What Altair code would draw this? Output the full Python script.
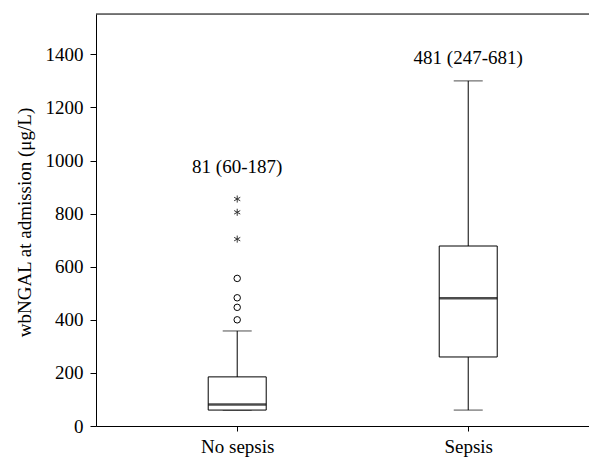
import altair as alt
import pandas as pd

groups = ["No sepsis", "Sepsis"]
lower_whisker = [60, 60]
q1 = [60, 260]
median = [81, 481]
q3 = [185, 678]
upper_whisker = [358, 1300]
summary_labels = ["81 (60-187)", "481 (247-681)"]
summary_label_y = [977, 1385]

circle_outliers = [400, 447, 483, 556]
star_outliers = [704, 805, 855]

y_ticks = [0, 200, 400, 600, 800, 1000, 1200, 1400]

FONT = "Liberation Serif"
FS = 19
W, H = 493, 412

box_df = pd.DataFrame({
    "group": groups, "low": lower_whisker, "q1": q1, "median": median,
    "q3": q3, "high": upper_whisker, "label": summary_labels, "label_y": summary_label_y,
})
circ_df = pd.DataFrame({"group": ["No sepsis"] * len(circle_outliers), "value": circle_outliers})
star_df = pd.DataFrame({"group": ["No sepsis"] * len(star_outliers), "value": star_outliers})

xscale = alt.Scale(type="point", domain=groups, padding=0.567, align=0.539)
yscale = alt.Scale(domain=[0, 1552], nice=False, zero=True)

xaxis = alt.Axis(title=None, labelFont=FONT, labelFontSize=FS, labelColor="black",
                 labelAngle=0, tickSize=5, tickColor="black", domainColor="black",
                 labelPadding=6, grid=False)
yaxis = alt.Axis(title="wbNGAL at admission (μg/L)", values=y_ticks, format="d",
                 labelFont=FONT, labelFontSize=FS, labelColor="black", tickSize=6,
                 tickColor="black", domainColor="black", labelPadding=7, grid=False,
                 titleFont=FONT, titleFontSize=FS, titleFontWeight="normal",
                 titleColor="black", titleAngle=270, titleX=-72, titleY=208,
                 titleAlign="center", titleBaseline="middle")

base = alt.Chart(box_df)
x = alt.X("group:N", scale=xscale, axis=xaxis)

whisker = base.mark_rule(color="black", strokeWidth=1).encode(
    x=x, y=alt.Y("low:Q", scale=yscale, axis=yaxis), y2="high:Q")
cap_low = base.mark_tick(orient="horizontal", size=29, thickness=1, color="black").encode(
    x=x, y=alt.Y("low:Q", scale=yscale))
cap_high = base.mark_tick(orient="horizontal", size=29, thickness=1, color="black").encode(
    x=x, y=alt.Y("high:Q", scale=yscale))
box = base.mark_bar(size=58, fill="white", stroke="black", strokeWidth=1).encode(
    x=x, y=alt.Y("q1:Q", scale=yscale), y2="q3:Q")
med = base.mark_tick(orient="horizontal", size=58, thickness=2.5, color="black").encode(
    x=x, y=alt.Y("median:Q", scale=yscale))
labels = base.mark_text(font=FONT, fontSize=FS, color="black", baseline="middle").encode(
    x=x, y=alt.Y("label_y:Q", scale=yscale), text="label:N")

circles = alt.Chart(circ_df).mark_point(shape="circle", size=42, filled=False,
                                         stroke="black", strokeWidth=1, opacity=1).encode(
    x=x, y=alt.Y("value:Q", scale=yscale))
stars = alt.Chart(star_df).mark_point(
    shape="M0,-1L0,1M-0.866,-0.5L0.866,0.5M-0.866,0.5L0.866,-0.5",
    size=50, filled=False, stroke="#333333", strokeWidth=1, opacity=1).encode(
    x=x, y=alt.Y("value:Q", scale=yscale))

top_line = alt.Chart(pd.DataFrame({"a": [0]})).mark_rule(color="black", strokeWidth=1).encode(
    x=alt.value(0), x2=alt.value(W), y=alt.value(0))

chart = alt.layer(whisker, cap_low, cap_high, box, med, circles, stars, labels, top_line).properties(
    width=W, height=H,
    autosize=alt.AutoSizeParams(type="none"),
    padding={"left": 88, "top": 6, "right": 0, "bottom": 33},
).configure_view(stroke=None).configure(background="white")

chart.save("out.html", embed_options={"renderer": "svg", "actions": False})
